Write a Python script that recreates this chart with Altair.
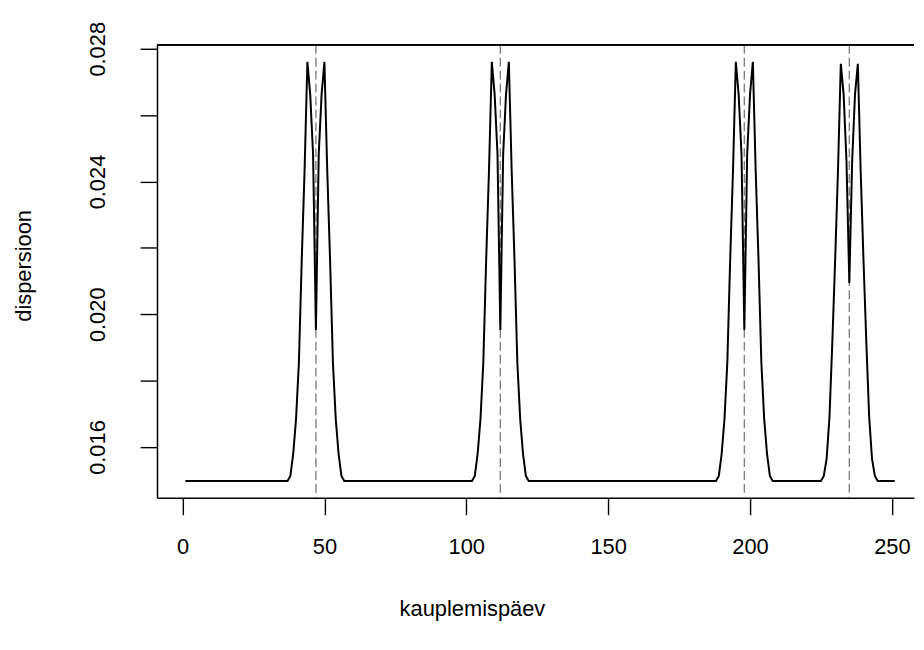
import altair as alt
import pandas as pd

# ---- data ----
days = list(range(1, 252))                 # kauplemispäev 1..251
baseline = 0.01498                         # flat level between events
event_days = [47, 112, 198, 235]           # dashed vertical lines / bump centres
offsets = list(range(-10, 11))             # day offsets around each event

# dispersion values at offsets -10..+10 around each event
peak_47 = [0.01498, 0.01513, 0.01579, 0.01684, 0.01854, 0.02162, 0.02432, 0.02761,
           0.02662, 0.02483, 0.01953, 0.02483, 0.02662, 0.02761, 0.02432, 0.02162,
           0.01854, 0.01684, 0.01579, 0.01513, 0.01498]
peak_112 = [0.01498, 0.01513, 0.01579, 0.01684, 0.01854, 0.02162, 0.02432, 0.02761,
            0.02662, 0.02483, 0.01953, 0.02483, 0.02662, 0.02761, 0.02432, 0.02162,
            0.01854, 0.01684, 0.01579, 0.01513, 0.01498]
peak_198 = [0.01498, 0.01513, 0.01579, 0.01684, 0.01854, 0.02162, 0.02432, 0.02761,
            0.02662, 0.02483, 0.01953, 0.02483, 0.02662, 0.02761, 0.02432, 0.02162,
            0.01854, 0.01684, 0.01579, 0.01513, 0.01498]
peak_235 = [0.01498, 0.01513, 0.01564, 0.01690, 0.01914, 0.02162, 0.02432, 0.02755,
            0.02662, 0.02462, 0.02094, 0.02462, 0.02662, 0.02755, 0.02432, 0.02162,
            0.01914, 0.01690, 0.01564, 0.01513, 0.01498]
peaks = [peak_47, peak_112, peak_198, peak_235]

x_ticks = [0, 50, 100, 150, 200, 250]
y_ticks = [0.016, 0.018, 0.020, 0.022, 0.024, 0.026, 0.028]
x_domain = [-9, 257.8]
y_domain = [0.01447, 0.02812]

# ---- build table ----
values = [baseline] * len(days)
for d0, prof in zip(event_days, peaks):
    for k, v in zip(offsets, prof):
        values[d0 + k - 1] = v
df = pd.DataFrame({"day": days, "dispersion": values})
ev = pd.DataFrame({"day": event_days})

FONT = "Liberation Sans"
FS = 22
W, H = 762, 456

xscale = alt.Scale(domain=x_domain, nice=False, zero=False)
yscale = alt.Scale(domain=y_domain, nice=False, zero=False)

xaxis = alt.Axis(values=x_ticks, title="kauplemispäev", grid=False, labelFlush=False,
                 labelOverlap=False, tickSize=17, labelPadding=22, labelFontSize=FS,
                 labelFont=FONT, labelColor="black", tickColor="black", tickWidth=1.4,
                 domainColor="black", domainWidth=1.5, titleFont=FONT, titleFontSize=FS,
                 titleFontWeight="normal", titleColor="black", titleX=317, titleY=118,
                 titleAlign="center", titleBaseline="alphabetic")
yaxis = alt.Axis(values=y_ticks, title="dispersioon", grid=False, labelFlush=False,
                 labelOverlap=False,
                 labelExpr="(round(datum.value*1000) % 4 == 0) ? format(datum.value, '.3f') : ''",
                 tickSize=17, labelPadding=36, labelFontSize=FS, labelFont=FONT,
                 labelColor="black", labelAngle=270, labelAlign="center",
                 labelBaseline="alphabetic", tickColor="black", tickWidth=1.4,
                 domainColor="black", domainWidth=1.5, titleFont=FONT, titleFontSize=FS,
                 titleFontWeight="normal", titleColor="black", titleAngle=270,
                 titleX=-127, titleY=222, titleAlign="center", titleBaseline="alphabetic")

line = alt.Chart(df).mark_line(color="black", strokeWidth=2).encode(
    x=alt.X("day:Q", scale=xscale, axis=xaxis),
    y=alt.Y("dispersion:Q", scale=yscale, axis=yaxis),
)

vlines = alt.Chart(ev).mark_rule(color="#808080", strokeWidth=1.4, strokeDash=[9, 4]).encode(
    x=alt.X("day:Q", scale=xscale)
)

top_border = alt.Chart(ev).mark_rule(color="black", strokeWidth=1.5).encode(
    x=alt.value(0), x2=alt.value(W), y=alt.value(0)
)

chart = alt.layer(vlines, line, top_border).properties(
    width=W, height=H,
    autosize=alt.AutoSizeParams(type="none"),
    padding={"left": 150, "top": 35, "right": 2, "bottom": 130},
    background="white",
).configure_view(stroke=None)

chart.save("out.html", embed_options={"renderer": "svg", "actions": False})
